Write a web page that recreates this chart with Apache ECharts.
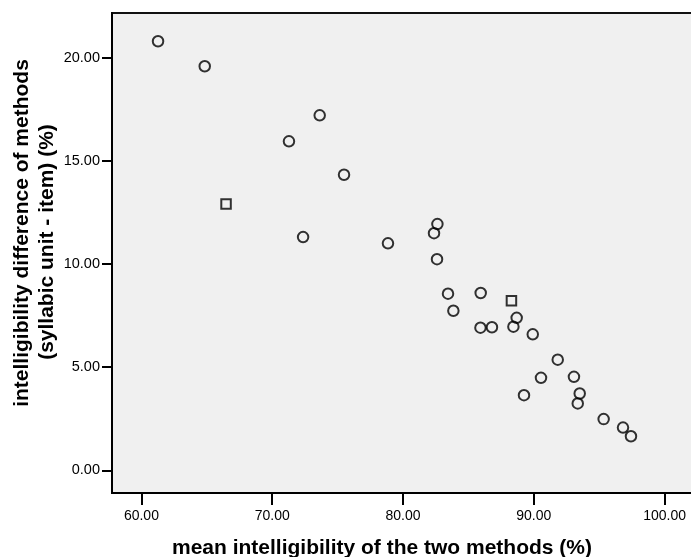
<!DOCTYPE html>
<html>
<head>
<meta charset="utf-8">
<script src="https://cdn.jsdelivr.net/npm/echarts@6/dist/echarts.min.js"></script>
<style>html,body{margin:0;padding:0;background:#fff}#c{width:691px;height:557px}</style>
</head>
<body>
<div id="c"></div>
<script>
const xTicks = [60, 70, 80, 90, 100];
const yTicks = [0, 5, 10, 15, 20];
const circleX = [61.27, 64.84, 71.28, 73.63, 75.49, 72.36, 78.85, 82.63, 82.37, 82.60, 83.44, 85.94, 83.85, 88.69, 85.92, 86.80, 88.44, 89.92, 91.83, 90.55, 93.07, 89.25, 93.51, 93.36, 95.34, 96.82, 97.43];
const circleY = [20.79, 19.58, 15.94, 17.20, 14.32, 11.30, 11.00, 11.93, 11.49, 10.23, 8.56, 8.59, 7.73, 7.39, 6.91, 6.93, 6.96, 6.59, 5.36, 4.48, 4.53, 3.64, 3.72, 3.24, 2.48, 2.07, 1.65];
const squareX = [66.47, 88.29];
const squareY = [12.90, 8.22];
const xTitle = 'mean intelligibility of the two methods (%)';
const yTitle1 = 'intelligibility difference of methods';
const yTitle2 = '(syllabic unit - item) (%)';

const font = '"Liberation Sans", Arial, sans-serif';
const chart = echarts.init(document.getElementById('c'), null, {renderer: 'canvas'});
const markerStyle = {color: 'transparent', borderColor: '#000', borderWidth: 2};
chart.setOption({
  animation: false,
  backgroundColor: '#fff',
  grid: {left: 112, top: 13, width: 590, height: 480, outerBoundsMode: 'none', containLabel: false, show: true, backgroundColor: '#f0f0f0', borderColor: '#111', borderWidth: 2},
  xAxis: {
    type: 'value', min: 57.75, max: 102.86,
    axisLine: {show: true, onZero: false, lineStyle: {color: '#000', width: 2}},
    axisTick: {show: true, customValues: xTicks, length: 12, lineStyle: {color: '#000', width: 2}},
    axisLabel: {customValues: xTicks, formatter: v => v.toFixed(2), color: '#000', fontSize: 14, fontFamily: font, margin: 16},
    splitLine: {show: false}
  },
  yAxis: {
    type: 'value', min: -1.10, max: 22.16,
    axisLine: {show: true, onZero: false, lineStyle: {color: '#000', width: 2}},
    axisTick: {show: true, customValues: yTicks, length: 10, lineStyle: {color: '#000', width: 2}},
    axisLabel: {customValues: yTicks, formatter: v => v.toFixed(2), color: '#000', fontSize: 14.5, fontFamily: font, margin: 12},
    splitLine: {show: false}
  },
  graphic: [
    {type: 'text', x: 382, y: 548, style: {text: xTitle, font: 'bold 21px ' + font, fill: '#000', align: 'center', verticalAlign: 'middle'}},
    {type: 'text', x: 22, y: 233, rotation: Math.PI / 2, style: {text: yTitle1, font: 'bold 21px ' + font, fill: '#000', align: 'center', verticalAlign: 'middle'}},
    {type: 'text', x: 47, y: 242, rotation: Math.PI / 2, style: {text: yTitle2, font: 'bold 21px ' + font, fill: '#000', align: 'center', verticalAlign: 'middle'}}
  ],
  series: [
    {type: 'scatter', symbol: 'circle', symbolSize: 10.5, itemStyle: markerStyle,
     data: circleX.map((x, i) => [x, circleY[i]])},
    {type: 'scatter', symbol: 'rect', symbolSize: 9.5, itemStyle: markerStyle,
     data: squareX.map((x, i) => [x, squareY[i]])}
  ]
});
</script>
</body>
</html>
